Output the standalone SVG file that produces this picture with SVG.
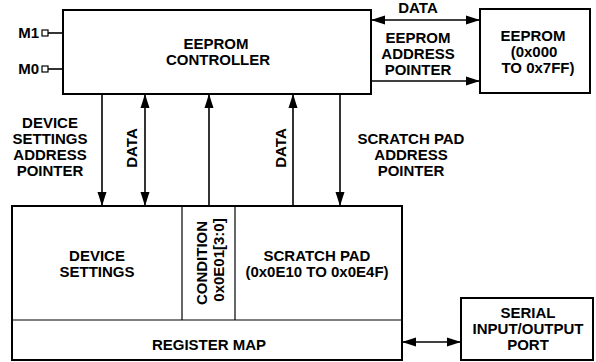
<svg xmlns="http://www.w3.org/2000/svg" width="596" height="362" viewBox="0 0 596 362">
<style>
.box{fill:#fff;stroke:#000;stroke-width:2}
.div{fill:none;stroke:#000;stroke-width:1.2}
.ln{fill:none;stroke:#000;stroke-width:1.6}
.t{font-family:"Liberation Sans",Arial,Helvetica,sans-serif;font-weight:bold;font-size:15px;fill:#000;text-anchor:middle}
.l{text-anchor:end}
</style>
<defs>
<marker id="ah" markerUnits="userSpaceOnUse" markerWidth="14" markerHeight="10" refX="14" refY="4.5" orient="auto-start-reverse" viewBox="0 0 14 9">
<path d="M0,0 L14,4.5 L0,9 Z" fill="#000"/>
</marker>
</defs>
<rect width="596" height="362" fill="#fff"/>

<g id="eeprom-controller">
<rect class="box" x="63" y="10" width="308" height="84"/>
<text class="t" x="216" y="49">EEPROM</text>
<text class="t" x="218" y="65">CONTROLLER</text>
</g>

<g id="pin-m1">
<text class="t l" x="39" y="38">M1</text>
<rect x="42" y="30" width="6" height="6" fill="#fff" stroke="#000" stroke-width="1.2"/>
<line class="ln" x1="48" y1="33" x2="63" y2="33"/>
</g>
<g id="pin-m0">
<text class="t l" x="39" y="74">M0</text>
<rect x="42" y="66" width="6" height="6" fill="#fff" stroke="#000" stroke-width="1.2"/>
<line class="ln" x1="48" y1="69" x2="63" y2="69"/>
</g>

<g id="eeprom">
<rect class="box" x="480" y="9" width="110" height="84"/>
<text class="t" x="533" y="41">EEPROM</text>
<text class="t" x="534" y="57">(0x000</text>
<text class="t" x="538" y="73">TO 0x7FF)</text>
</g>

<g id="register-map">
<rect class="box" x="12" y="206" width="390" height="154"/>
<line class="div" x1="12" y1="320" x2="402" y2="320"/>
<line class="div" x1="182" y1="206" x2="182" y2="320"/>
<line class="div" x1="235" y1="206" x2="235" y2="320"/>
<text class="t" x="97" y="261">DEVICE</text>
<text class="t" x="97" y="277">SETTINGS</text>
<text class="t" transform="translate(207,263) rotate(-90)">CONDITION</text>
<text class="t" transform="translate(224,260) rotate(-90)">0x0E01[3:0]</text>
<text class="t" x="317" y="261">SCRATCH PAD</text>
<text class="t" x="317" y="277">(0x0E10 TO 0x0E4F)</text>
<text class="t" x="209" y="350">REGISTER MAP</text>
</g>

<g id="serial-port">
<rect class="box" x="461" y="298" width="132" height="62"/>
<text class="t" x="528" y="318">SERIAL</text>
<text class="t" x="528" y="334">INPUT/OUTPUT</text>
<text class="t" x="528" y="350">PORT</text>
</g>

<g id="connectors">
<line class="ln" x1="102" y1="94" x2="102" y2="206" marker-end="url(#ah)"/>
<line class="ln" x1="145" y1="94" x2="145" y2="206" marker-start="url(#ah)" marker-end="url(#ah)"/>
<line class="ln" x1="209" y1="206" x2="209" y2="94" marker-end="url(#ah)"/>
<line class="ln" x1="293" y1="206" x2="293" y2="94" marker-end="url(#ah)"/>
<line class="ln" x1="340" y1="94" x2="340" y2="206" marker-end="url(#ah)"/>
<line class="ln" x1="371" y1="20" x2="480" y2="20" marker-start="url(#ah)" marker-end="url(#ah)"/>
<line class="ln" x1="371" y1="81" x2="480" y2="81" marker-end="url(#ah)"/>
<line class="ln" x1="402" y1="342" x2="461" y2="342" marker-start="url(#ah)" marker-end="url(#ah)"/>
</g>

<g id="labels">
<text class="t" x="418" y="13">DATA</text>
<text class="t" x="418" y="43">EEPROM</text>
<text class="t" x="418" y="59">ADDRESS</text>
<text class="t" x="418" y="75">POINTER</text>
<text class="t" x="50" y="128">DEVICE</text>
<text class="t" x="50" y="144">SETTINGS</text>
<text class="t" x="50" y="160">ADDRESS</text>
<text class="t" x="50" y="176">POINTER</text>
<text class="t" transform="translate(137,148) rotate(-90)">DATA</text>
<text class="t" transform="translate(286,148) rotate(-90)">DATA</text>
<text class="t" x="411" y="144">SCRATCH PAD</text>
<text class="t" x="411" y="160">ADDRESS</text>
<text class="t" x="411" y="176">POINTER</text>
</g>
</svg>
